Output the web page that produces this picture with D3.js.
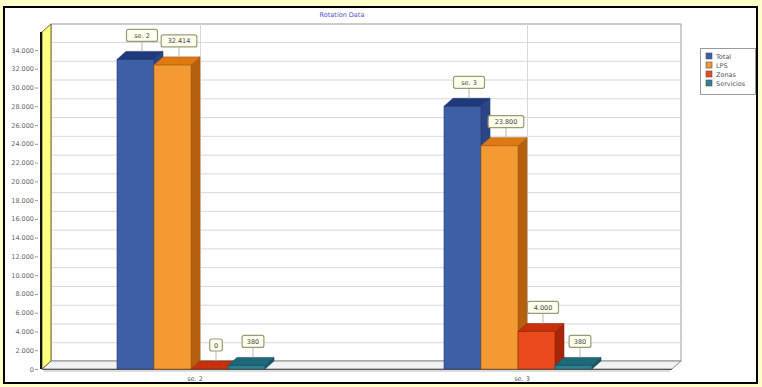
<!DOCTYPE html>
<html>
<head>
<meta charset="utf-8">
<script src="https://cdn.jsdelivr.net/npm/d3@7/dist/d3.min.js"></script>
<style>
  html, body { margin: 0; padding: 0; background: #ffffc8; }
  svg { display: block; font-family: "DejaVu Sans", Verdana, sans-serif; }
</style>
</head>
<body>
<svg id="chart" width="762" height="387"></svg>
<script>
// Chart data
const title = "Rotation Data";
const categories = ["se. 2", "se. 3"];
const seriesNames = ["Total", "LPS", "Zonas", "Servicios"];
const totalValues = [33000, 28000];
const lpsValues = [32414, 23800];
const zonasValues = [0, 4000];
const serviciosValues = [380, 380];
const totalLabels = ["se. 2", "se. 3"];
const yTicks = [0, 2000, 4000, 6000, 8000, 10000, 12000, 14000, 16000, 18000,
                20000, 22000, 24000, 26000, 28000, 30000, 32000, 34000];

const seriesValues = [totalValues, lpsValues, zonasValues, serviciosValues];

// Face colours per series: front, top, side
const palette = [
  { front: "#3e5ea6", top: "#1f3a7c", side: "#2b4686", stroke: "#223a70" },
  { front: "#f39a33", top: "#dd7a14", side: "#b5600f", stroke: "#a85a12" },
  { front: "#ea4a1c", top: "#c8300c", side: "#a82608", stroke: "#90260a" },
  { front: "#2d7f93", top: "#1f6878", side: "#175565", stroke: "#185060" }
];

const svg = d3.select("#chart");
const W = 762, H = 387;

// Outer frame
svg.append("rect").attr("x", 0).attr("y", 0).attr("width", W).attr("height", H).attr("fill", "#ffffc8");
svg.append("rect").attr("x", 4).attr("y", 7).attr("width", 753).attr("height", 376)
  .attr("fill", "#ffffff").attr("stroke", "#000").attr("stroke-width", 2);

// 3D geometry
const dx = 9, dy = 8;
const left = 42, right = 672, y0px = 369;

const y = d3.scaleLinear().domain([0, 34000]).range([y0px, 50]);
const x0 = d3.scaleBand().domain(categories).range([27.5, 681.5]);
const groupW = 148;
const x1 = d3.scaleBand().domain(seriesNames).range([0, groupW]);

const locale = d3.formatLocale({ decimal: ",", thousands: ".", grouping: [3], currency: ["", ""] });
const fmt = locale.format(",d");

// Back wall
const wallTop = 24;
svg.append("rect").attr("x", left + dx).attr("y", wallTop)
  .attr("width", right - left).attr("height", (y0px - dy) - wallTop)
  .attr("fill", "#ffffff").attr("stroke", "#9a9a9a").attr("stroke-width", 1);

// Horizontal gridlines on the back wall
svg.append("g").selectAll("line").data(yTicks.filter(t => t > 0)).join("line")
  .attr("x1", left + dx).attr("x2", right + dx)
  .attr("y1", d => y(d) - dy + 0.5).attr("y2", d => y(d) - dy + 0.5)
  .attr("stroke", "#d8d8d8").attr("stroke-width", 1);

// Vertical category gridlines on the back wall
svg.append("g").selectAll("line").data(categories).join("line")
  .attr("x1", d => x0(d) + x0.bandwidth() / 2 + dx + 0.5)
  .attr("x2", d => x0(d) + x0.bandwidth() / 2 + dx + 0.5)
  .attr("y1", wallTop).attr("y2", y0px - dy)
  .attr("stroke", "#d8d8d8").attr("stroke-width", 1);

// Floor
svg.append("path")
  .attr("d", `M${left},${y0px} L${right},${y0px} L${right + dx},${y0px - dy} L${left + dx},${y0px - dy} Z`)
  .attr("fill", "#f2f2f2").attr("stroke", "#8a8a8a").attr("stroke-width", 1);
svg.append("line").attr("x1", left).attr("x2", right).attr("y1", y0px + 0.5).attr("y2", y0px + 0.5)
  .attr("stroke", "#555").attr("stroke-width", 1.2);
svg.append("line").attr("x1", left + 2).attr("x2", right - 2).attr("y1", y0px + 2).attr("y2", y0px + 2)
  .attr("stroke", "#cfcfcf").attr("stroke-width", 1.5);

// Left wall (yellow)
svg.append("path")
  .attr("d", `M${left},${y0px} L${left},${y(34000) - 18} L${left + dx},${wallTop} L${left + dx},${y0px - dy} Z`)
  .attr("fill", "#ffff80").attr("stroke", "#6b6b30").attr("stroke-width", 1);
svg.append("line").attr("x1", left - 1).attr("x2", left - 1)
  .attr("y1", y(34000) - 18).attr("y2", y0px)
  .attr("stroke", "#111").attr("stroke-width", 2);

// Y axis labels and ticks
const yAxis = svg.append("g").attr("font-size", 6.5).attr("fill", "#666");
yAxis.selectAll("text").data(yTicks).join("text")
  .attr("x", 34).attr("y", d => y(d) + 2.5).attr("text-anchor", "end")
  .text(d => fmt(d));
yAxis.selectAll("line").data(yTicks).join("line")
  .attr("x1", 35).attr("x2", 38).attr("y1", d => y(d) + 0.5).attr("y2", d => y(d) + 0.5)
  .attr("stroke", "#999");

// Bars
const bars = [];
categories.forEach((c, ci) => {
  seriesNames.forEach((s, si) => {
    bars.push({ cat: c, ser: s, si, ci, value: seriesValues[si][ci] });
  });
});

const groupOffset = (x0.bandwidth() - groupW) / 2;
const bw = x1.bandwidth();
const barX = d => x0(d.cat) + groupOffset + x1(d.ser);

const barG = svg.append("g");
bars.forEach(d => {
  const xl = barX(d), xr = xl + bw;
  const yt = y(d.value), yb = y(0);
  const col = palette[d.si];
  const g = barG.append("g");
  // side face
  g.append("path")
    .attr("d", `M${xr},${yt} L${xr + dx},${yt - dy} L${xr + dx},${yb - dy} L${xr},${yb} Z`)
    .attr("fill", col.side).attr("stroke", col.stroke).attr("stroke-width", 0.6);
  // front face
  g.append("rect").attr("x", xl).attr("y", yt).attr("width", bw).attr("height", Math.max(0, yb - yt))
    .attr("fill", col.front).attr("stroke", col.stroke).attr("stroke-width", 0.6);
  // top face
  g.append("path")
    .attr("d", `M${xl},${yt} L${xl + dx},${yt - dy} L${xr + dx},${yt - dy} L${xr},${yt} Z`)
    .attr("fill", col.top).attr("stroke", col.stroke).attr("stroke-width", 0.6);
});

// Data labels
const labelG = svg.append("g").attr("font-size", 6.5).attr("fill", "#444");
bars.forEach(d => {
  const txt = d.si === 0 ? totalLabels[d.ci] : fmt(d.value);
  const cx = barX(d) + bw / 2 + dx / 2 + 2;
  const yt = y(d.value) - dy;
  const boxH = 12;
  const boxW = txt.length * 4.6 + 8;
  const by = yt - 22;
  labelG.append("line").attr("x1", cx).attr("x2", cx).attr("y1", by + boxH).attr("y2", yt)
    .attr("stroke", "#b8b8a0").attr("stroke-width", 1);
  labelG.append("rect").attr("x", cx - boxW / 2).attr("y", by).attr("width", boxW).attr("height", boxH)
    .attr("rx", 2).attr("fill", "#ffffee").attr("stroke", "#9a9a78").attr("stroke-width", 1.2);
  labelG.append("text").attr("x", cx).attr("y", by + 8.5).attr("text-anchor", "middle").text(txt);
});

// X axis labels
svg.append("g").attr("font-size", 6.5).attr("fill", "#555")
  .selectAll("text").data(categories).join("text")
  .attr("x", d => x0(d) + x0.bandwidth() / 2 + 4).attr("y", 381).attr("text-anchor", "middle")
  .text(d => d);

// Title
svg.append("text").attr("x", 342).attr("y", 17).attr("text-anchor", "middle")
  .attr("font-size", 6.5).attr("fill", "#5050c8").text(title);

// Legend
const lg = svg.append("g").attr("transform", "translate(700,48)");
lg.append("rect").attr("x", 0.5).attr("y", 0.5).attr("width", 55).attr("height", 46)
  .attr("fill", "#fff").attr("stroke", "#9a9a9a");
seriesNames.forEach((s, i) => {
  lg.append("rect").attr("x", 6).attr("y", 5 + i * 9).attr("width", 6).attr("height", 6)
    .attr("fill", palette[i].front).attr("stroke", "#555").attr("stroke-width", 0.6);
  lg.append("text").attr("x", 16).attr("y", 10.5 + i * 9).attr("font-size", 6.5).attr("fill", "#555").text(s);
});
</script>
</body>
</html>
